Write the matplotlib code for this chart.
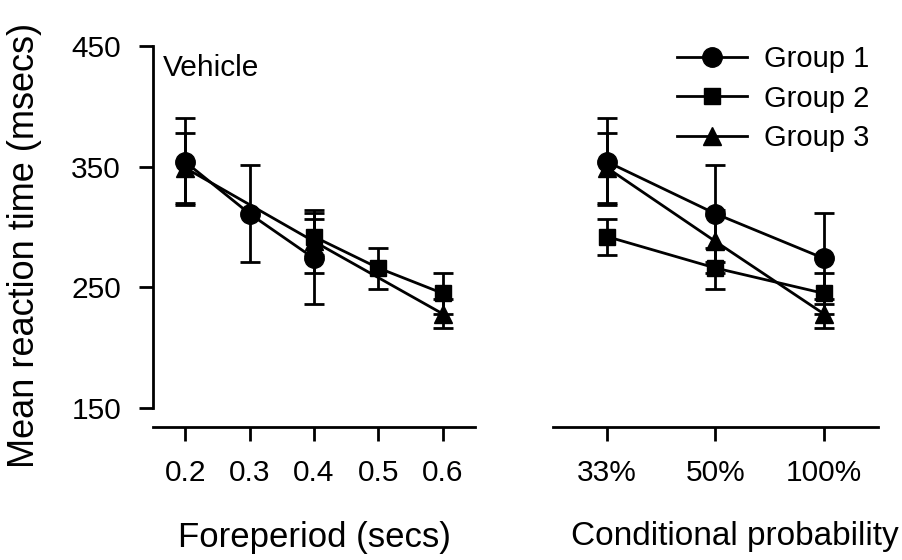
import matplotlib
matplotlib.use("Agg")
import matplotlib.pyplot as plt
import matplotlib.transforms as mtransforms

plt.rcParams['font.family'] = ['Liberation Sans', 'DejaVu Sans']

# Foreperiod (secs) and conditional probability for each group
foreperiods = [0.2, 0.3, 0.4, 0.5, 0.6]
prob_labels = ['33%', '50%', '100%']

g1_fp = [0.2, 0.3, 0.4]
g2_fp = [0.4, 0.5, 0.6]
g3_fp = [0.2, 0.4, 0.6]

g1_mean = [354, 311, 274]
g2_mean = [292, 266, 245]
g3_mean = [349, 288, 228]

g1_sem = [36, 40, 38]
g2_sem = [15, 17, 17]
g3_sem = [29, 26, 12]

group_names = ['Group 1', 'Group 2', 'Group 3']
markers = ['o', 's', '^']
msizes = [14, 12, 13]

W, H = 903, 560
fig = plt.figure(figsize=(W / 100, H / 100), dpi=100)

def axes_px(left, right, top, bottom):
    return fig.add_axes([left / W, (H - bottom) / H, (right - left) / W, (bottom - top) / H])

ax1 = axes_px(153, 475, 46, 427)
ax2 = axes_px(553, 878, 46, 427)

LW = 2.0
TICK_FS = 21.5

ylo = 150 - 19 / 1.2067
for ax in (ax1, ax2):
    ax.set_ylim(ylo, 450)
    for s in ('top', 'right'):
        ax.spines[s].set_visible(False)
    ax.spines['bottom'].set_linewidth(LW)
    ax.tick_params(axis='x', direction='out', length=10, width=LW, labelsize=TICK_FS, pad=13)

ax1.spines['left'].set_linewidth(LW)
ax1.spines['left'].set_bounds(150, 450)
ax1.set_yticks([150, 250, 350, 450])
ax1.tick_params(axis='y', direction='out', length=10, width=LW, labelsize=TICK_FS, pad=13)
ax1.set_xlim(0.15, 0.65)
ax1.set_xticks(foreperiods)
ax1.set_xticklabels([f'{v:.1f}' for v in foreperiods])

ax2.spines['left'].set_visible(False)
ax2.set_yticks([])
ax2.set_xlim(-0.5, 2.5)
ax2.set_xticks(range(len(prob_labels)))
ax2.set_xticklabels(prob_labels)

style = dict(color='black', linewidth=LW, capsize=7.5, capthick=LW, elinewidth=LW,
             markeredgecolor='black', markerfacecolor='black')

fp_data = [(g1_fp, g1_mean, g1_sem), (g2_fp, g2_mean, g2_sem), (g3_fp, g3_mean, g3_sem)]
handles = []
for (fp, m, e), mk, ms, name in zip(fp_data, markers, msizes, group_names):
    ax1.errorbar(fp, m, yerr=e, marker=mk, markersize=ms, **style)
    h = ax2.errorbar(range(len(prob_labels)), m, yerr=e, marker=mk, markersize=ms, **style)
    handles.append(h[0])

ax1.text(0.031, 432, 'Vehicle', fontsize=21.5, va='center', ha='left',
         transform=mtransforms.blended_transform_factory(ax1.transAxes, ax1.transData))

fig.text(25 / W, 1 - 245 / H, 'Mean reaction time (msecs)', rotation=90,
         fontsize=26, ha='center', va='center')
fig.text(314 / W, 1 - 537 / H, 'Foreperiod (secs)', fontsize=25, ha='center', va='center')
fig.text(735 / W, 1 - 537 / H, 'Conditional probability', fontsize=24, ha='center', va='center')

ax2.legend(handles, group_names, loc='upper left', bbox_to_anchor=(677 / W, 1 - 45 / H),
           bbox_transform=fig.transFigure, frameon=False, fontsize=21,
           handlelength=2.4, handletextpad=0.6, labelspacing=0.4, borderpad=0,
           borderaxespad=0, numpoints=1)

fig.savefig('out.png', dpi=100)
